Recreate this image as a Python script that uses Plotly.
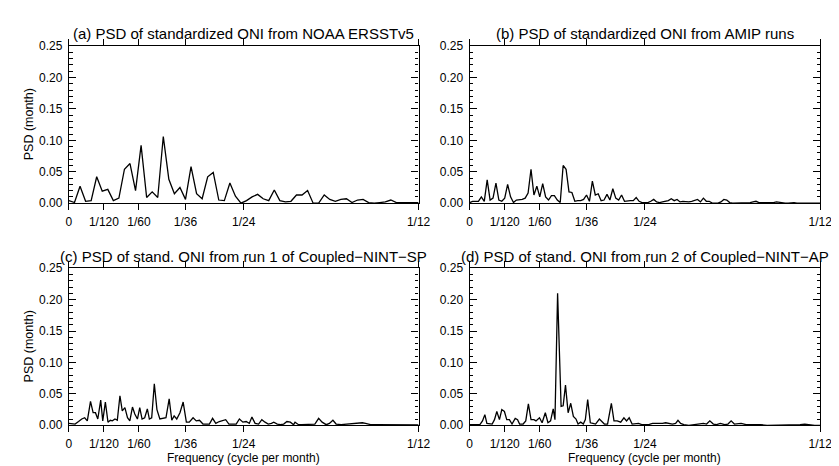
import numpy as np
import plotly.graph_objects as go

# ---------------- data ----------------
tick_freqs = [0, 1/120, 1/60, 1/36, 1/24, 1/12]
tick_labels = ["0", "1/120", "1/60", "1/36", "1/24", "1/12"]

titles = [
    "(a) PSD of standardized ONI from NOAA ERSSTv5",
    "(b) PSD of standardized ONI from AMIP runs",
    "(c) PSD of stand. ONI from run 1 of Coupled\u2212NINT\u2212SP",
    "(d) PSD of stand. ONI from run 2 of Coupled\u2212NINT\u2212AP",
]

# (a) observed, record length 756 months -> frequency step 1/756
record_len_a = 756
psd_a = [0.004, 0.001, 0.027, 0.003, 0.004, 0.042, 0.019, 0.022, 0.004, 0.008,
         0.054, 0.063, 0.020, 0.092, 0.009, 0.018, 0.009, 0.106, 0.038, 0.015,
         0.025, 0.006, 0.058, 0.015, 0.007, 0.042, 0.049, 0.005, 0.004, 0.032,
         0.011, 0.000, 0.004, 0.010, 0.014, 0.007, 0.004, 0.021, 0.004, 0.002,
         0.003, 0.013, 0.013, 0.020, 0.000, 0.000, 0.013, 0.006, 0.003, 0.006,
         0.007, 0.001, 0.005, 0.006, 0.001, 0.000, 0.001, 0.002, 0.005, 0.001,
         0.001, 0.001, 0.002, 0.001]

# (b) AMIP runs, frequency step 1/1440
record_len_b = 1440
psd_b = [0.001, 0.003, 0.003, 0.003, 0.010, 0.003, 0.037, 0.005, 0.008, 0.032,
         0.005, 0.003, 0.008, 0.030, 0.010, 0.001, 0.005, 0.005, 0.006, 0.008,
         0.016, 0.054, 0.013, 0.027, 0.010, 0.031, 0.010, 0.005, 0.012, 0.012,
         0.005, 0.001, 0.060, 0.054, 0.018, 0.017, 0.003, 0.004, 0.004, 0.006,
         0.013, 0.003, 0.035, 0.013, 0.015, 0.004, 0.005, 0.014, 0.005, 0.023,
         0.008, 0.005, 0.013, 0.003, 0.004, 0.004, 0.004, 0.009, 0.003, 0.001,
         0.001, 0.001, 0.003, 0.006, 0.002, 0.001, 0.002, 0.003, 0.004, 0.007,
         0.004, 0.006, 0.002, 0.003, 0.002, 0.002, 0.003, 0.005, 0.006, 0.002,
         0.008, 0.003, 0.003, 0.000, 0.000, 0.000, 0.002, 0.006, 0.005, 0.001,
         0.000, 0.000, 0.000, 0.001, 0.001, 0.001, 0.001, 0.002, 0.003, 0.001,
         0.001, 0.000, 0.000, 0.000, 0.001, 0.002, 0.001, 0.000, 0.000, 0.000,
         0.001, 0.001, 0.000, 0.000, 0.000, 0.000, 0.000, 0.000, 0.000, 0.000,
         0.000]

# (c) run 1 of Coupled-NINT-SP : frequency (in units of 1/1440 cycle per month), PSD
freq_c_k = [0, 1.0, 2.1, 3.3, 4.4, 5.4, 6.3, 7.4, 8.3, 9.1,
            9.9, 10.9, 11.6, 12.5, 13.4, 14.2, 14.9, 15.8, 16.6, 17.5,
            18.3, 19.2, 20.1, 20.9, 21.8, 22.6, 23.5, 24.3, 25.1, 26.0,
            26.9, 27.6, 28.4, 29.3, 30.2, 31.2, 32.1, 33.3, 34.4, 35.3,
            36.1, 37.0, 38.1, 39.2, 40.3, 41.3, 42.6, 43.7, 44.8, 46.0,
            47.1, 48.2, 49.3, 50.4, 51.6, 52.7, 53.8, 54.9, 56.3, 57.4,
            58.5, 59.7, 60.8, 61.9, 62.8, 63.9, 65.1, 66.2, 67.3, 68.4,
            69.5, 70.3, 71.5, 72.6, 73.7, 74.8, 76.0, 77.1, 77.6, 78.8,
            79.9, 81.6, 82.7, 84.4, 85.7, 86.9, 88.3, 89.4, 90.6, 91.7,
            93.4, 95.6, 97.3, 99.0, 100.7, 101.8, 103.5, 105.7, 108.0, 110.2,
            113.6, 117.0, 120.0]
psd_c = [0.003, 0.002, 0.002, 0.006, 0.010, 0.012, 0.007, 0.038, 0.020, 0.020,
         0.010, 0.040, 0.007, 0.037, 0.005, 0.008, 0.007, 0.010, 0.008, 0.047,
         0.023, 0.028, 0.012, 0.007, 0.029, 0.018, 0.010, 0.028, 0.010, 0.012,
         0.026, 0.010, 0.012, 0.066, 0.025, 0.010, 0.011, 0.012, 0.042, 0.008,
         0.015, 0.010, 0.020, 0.037, 0.005, 0.005, 0.012, 0.007, 0.008, 0.002,
         0.002, 0.002, 0.011, 0.003, 0.006, 0.008, 0.009, 0.002, 0.002, 0.002,
         0.010, 0.005, 0.006, 0.003, 0.013, 0.003, 0.002, 0.009, 0.005, 0.002,
         0.003, 0.005, 0.002, 0.001, 0.002, 0.006, 0.005, 0.001, 0.005, 0.001,
         0.001, 0.001, 0.002, 0.002, 0.011, 0.005, 0.001, 0.003, 0.008, 0.002,
         0.001, 0.002, 0.003, 0.004, 0.004, 0.003, 0.001, 0.001, 0.001, 0.0005,
         0.0005, 0.0005, 0.0005]

# (d) run 2 of Coupled-NINT-AP
freq_d_k = [0, 1.8, 3.5, 4.4, 5.2, 5.9, 6.8, 7.7, 8.5, 9.3,
            10.2, 11.0, 11.9, 12.7, 13.6, 14.5, 15.6, 16.4, 17.1, 18.3,
            19.2, 20.1, 21.0, 22.0, 22.7, 23.9, 24.8, 25.9, 26.8, 27.7,
            28.6, 29.2, 30.1, 31.3, 32.0, 32.8, 33.7, 34.6, 35.5, 36.4,
            37.1, 38.0, 38.9, 39.6, 40.4, 41.3, 42.2, 43.1, 44.4, 45.4,
            46.1, 47.2, 48.5, 49.4, 50.5, 51.7, 52.8, 53.7, 54.6, 55.6,
            56.7, 57.8, 58.9, 60.1, 61.5, 62.6, 63.8, 64.9, 66.0, 67.1,
            68.2, 69.4, 70.5, 71.3, 72.2, 73.3, 75.0, 76.6, 78.3, 80.0,
            81.1, 82.2, 83.4, 84.5, 85.8, 87.3, 88.4, 89.5, 90.6, 91.8,
            92.9, 94.6, 96.2, 97.9, 99.6, 101.8, 104.1, 105.8, 107.4, 109.1,
            110.8, 113.1, 114.7, 115.9, 118.1, 120.0]
psd_d = [0.001, 0.001, 0.001, 0.007, 0.017, 0.003, 0.002, 0.002, 0.009, 0.022,
         0.009, 0.025, 0.022, 0.009, 0.009, 0.002, 0.011, 0.009, 0.002, 0.002,
         0.007, 0.034, 0.009, 0.009, 0.007, 0.012, 0.004, 0.020, 0.004, 0.007,
         0.026, 0.009, 0.210, 0.030, 0.031, 0.064, 0.020, 0.035, 0.014, 0.010,
         0.002, 0.005, 0.002, 0.009, 0.041, 0.004, 0.003, 0.002, 0.010, 0.005,
         0.002, 0.002, 0.035, 0.007, 0.007, 0.005, 0.012, 0.007, 0.012, 0.002,
         0.002, 0.003, 0.001, 0.001, 0.0015, 0.003, 0.003, 0.002, 0.003, 0.004,
         0.003, 0.002, 0.003, 0.008, 0.003, 0.001, 0.000, 0.001, 0.002, 0.003,
         0.002, 0.007, 0.002, 0.001, 0.003, 0.001, 0.002, 0.007, 0.002, 0.002,
         0.003, 0.001, 0.001, 0.002, 0.001, 0.000, 0.000, 0.001, 0.000, 0.000,
         0.000, 0.001, 0.002, 0.001, 0.000, 0.000]

freq_a = np.arange(len(psd_a)) / record_len_a
freq_b = np.arange(len(psd_b)) / record_len_b
freq_c = np.array(freq_c_k) / 1440
freq_d = np.array(freq_d_k) / 1440

# ---------------- figure ----------------
W, H = 839, 466
FONT = "Liberation Sans, Arial, Helvetica, sans-serif"

fig = go.Figure()
series = [(freq_a, psd_a), (freq_b, psd_b), (freq_c, psd_c), (freq_d, psd_d)]
for i, (fx, fy) in enumerate(series):
    sfx = "" if i == 0 else str(i + 1)
    fig.add_trace(go.Scatter(x=fx, y=fy, mode="lines",
                             line=dict(color="black", width=1.3),
                             xaxis="x" + sfx, yaxis="y" + sfx,
                             showlegend=False, hoverinfo="skip"))

# pixel boxes of the four panels
left_x = (59, 415)
right_x = (467, 824)
top_y = (32, 194)
bot_y = (261, 423)
boxes = [(left_x, top_y), (right_x, top_y), (left_x, bot_y), (right_x, bot_y)]

layout = dict(width=W, height=H, margin=dict(l=0, r=0, t=0, b=0),
              paper_bgcolor="white", plot_bgcolor="white",
              font=dict(family=FONT, color="black", size=12))

annotations = []
for i, ((x0, x1), (y0, y1)) in enumerate(boxes):
    sfx = "" if i == 0 else str(i + 1)
    xd = [x0 / W, x1 / W]
    yd = [1 - y1 / H, 1 - y0 / H]
    layout["xaxis" + sfx] = dict(
        domain=xd, anchor="y" + sfx, range=[0, 1 / 12],
        tickvals=tick_freqs, ticktext=tick_labels,
        ticks="outside", ticklen=6, tickwidth=1, tickcolor="black",
        showline=True, linecolor="black", linewidth=1.2, mirror="ticks",
        showgrid=False, zeroline=False,
        tickfont=dict(family=FONT, size=12, color="black"),
        ticklabelstandoff=1,
    )
    layout["yaxis" + sfx] = dict(
        domain=yd, anchor="x" + sfx, range=[0, 0.25],
        tickvals=[0, 0.05, 0.10, 0.15, 0.20, 0.25], tickformat=".2f",
        ticks="inside", ticklen=7, tickwidth=1, tickcolor="black",
        minor=dict(dtick=0.01, ticks="inside", ticklen=3.5, tickcolor="black", tickwidth=1),
        showline=True, linecolor="black", linewidth=1.2, mirror="ticks",
        showgrid=False, zeroline=False,
        tickfont=dict(family=FONT, size=12, color="black"),
        ticklabelstandoff=3,
    )
    # panel title
    annotations.append(dict(text=titles[i], x=(x0 + x1) / 2 / W, y=1 - (y0 - 12.5) / H,
                            xref="paper", yref="paper", xanchor="center", yanchor="middle",
                            showarrow=False, font=dict(family=FONT, size=15, color="black")))
    if i in (0, 2):
        annotations.append(dict(text="PSD (month)", x=18 / W, y=1 - (y0 + y1) / 2 / H,
                                xref="paper", yref="paper", xanchor="center", yanchor="middle",
                                textangle=-90, showarrow=False,
                                font=dict(family=FONT, size=12.5, color="black")))
    if i in (2, 3):
        annotations.append(dict(text="Frequency (cycle per month)", x=(x0 + x1) / 2 / W,
                                y=1 - 457 / H, xref="paper", yref="paper",
                                xanchor="center", yanchor="middle", showarrow=False,
                                font=dict(family=FONT, size=12, color="black")))

layout["annotations"] = annotations
fig.update_layout(**layout)
fig.write_html("out.html")
